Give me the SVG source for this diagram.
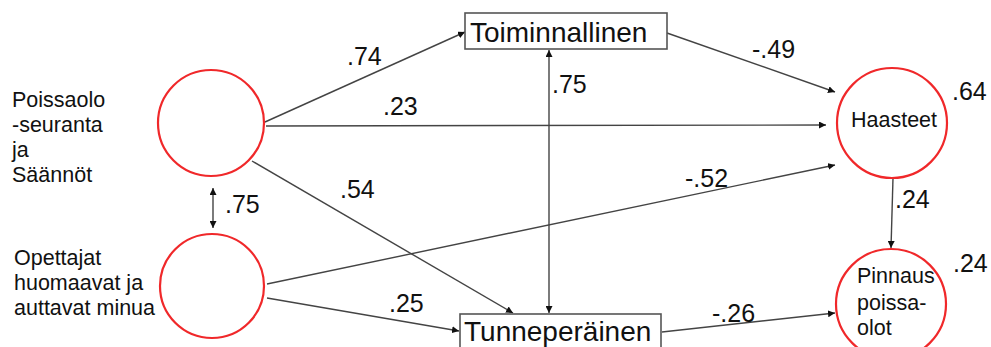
<svg xmlns="http://www.w3.org/2000/svg" width="991" height="347" viewBox="0 0 991 347">
<style>
text{font-family:"Liberation Sans",Arial,sans-serif;fill:#111}
.lbl{font-size:25px}
.side{font-size:21.5px}
.circ{fill:#fff;stroke:#f0282a;stroke-width:2.2}
.box{fill:#fff;stroke:#555;stroke-width:1.6}
.ln{stroke:#444;stroke-width:1.4;fill:none}
</style>
<defs>
<marker id="ah" viewBox="0 0 10 10" refX="10" refY="5" markerWidth="7" markerHeight="7" markerUnits="userSpaceOnUse" orient="auto-start-reverse">
<path d="M0,0 L10,5 L0,10 z" fill="#111"/>
</marker>
</defs>
<rect width="991" height="347" fill="#fff"/>
<g id="connectors">
<line class="ln" x1="265" y1="122" x2="465" y2="32" marker-end="url(#ah)"/>
<line class="ln" x1="266" y1="126" x2="826" y2="125" marker-end="url(#ah)"/>
<line class="ln" x1="252" y1="161" x2="513" y2="313" marker-end="url(#ah)"/>
<line class="ln" x1="667" y1="33" x2="835" y2="92" marker-end="url(#ah)"/>
<line class="ln" x1="267" y1="284" x2="835" y2="165" marker-end="url(#ah)"/>
<line class="ln" x1="267" y1="298" x2="459" y2="331" marker-end="url(#ah)"/>
<line class="ln" x1="662" y1="332" x2="835" y2="313" marker-end="url(#ah)"/>
<line class="ln" x1="549" y1="50" x2="549" y2="313" marker-start="url(#ah)" marker-end="url(#ah)"/>
<line class="ln" x1="213" y1="188" x2="213" y2="228" marker-start="url(#ah)" marker-end="url(#ah)"/>
<line class="ln" x1="893" y1="178" x2="891" y2="248" marker-end="url(#ah)"/>
<text class="lbl" x="347" y="65">.74</text>
<text class="lbl" x="383" y="115">.23</text>
<text class="lbl" x="340" y="198">.54</text>
<text class="lbl" x="225" y="213">.75</text>
<text class="lbl" x="552" y="93">.75</text>
<text class="lbl" x="752" y="58">-.49</text>
<text class="lbl" x="685" y="187">-.52</text>
<text class="lbl" x="389" y="312">.25</text>
<text class="lbl" x="712" y="322">-.26</text>
<text class="lbl" x="895" y="208">.24</text>
</g>
<g id="poissaolo">
<circle class="circ" cx="211" cy="123" r="53"/>
<text class="side" x="12" y="107">Poissaolo</text>
<text class="side" x="12" y="132">-seuranta</text>
<text class="side" x="12" y="157">ja</text>
<text class="side" x="12" y="182">Säännöt</text>
</g>
<g id="opettajat">
<circle class="circ" cx="212" cy="286" r="52"/>
<text class="side" x="14" y="265">Opettajat</text>
<text class="side" x="14" y="290">huomaavat ja</text>
<text class="side" x="14" y="315">auttavat minua</text>
</g>
<g id="toiminnallinen">
<rect class="box" x="465" y="13" width="202" height="36"/>
<text x="470" y="42" font-size="28">Toiminnallinen</text>
</g>
<g id="tunneperainen">
<rect class="box" x="460" y="314" width="201" height="40"/>
<text x="464" y="341" font-size="28">Tunneperäinen</text>
</g>
<g id="haasteet">
<circle class="circ" cx="892" cy="123" r="55"/>
<text class="side" x="894" y="127" text-anchor="middle">Haasteet</text>
<text class="lbl" x="952" y="100">.64</text>
</g>
<g id="pinnaus">
<circle class="circ" cx="891" cy="304" r="55"/>
<text class="side" x="857" y="283">Pinnaus</text>
<text class="side" x="857" y="310">poissa-</text>
<text class="side" x="857" y="335">olot</text>
<text class="lbl" x="953" y="272">.24</text>
</g>
</svg>
